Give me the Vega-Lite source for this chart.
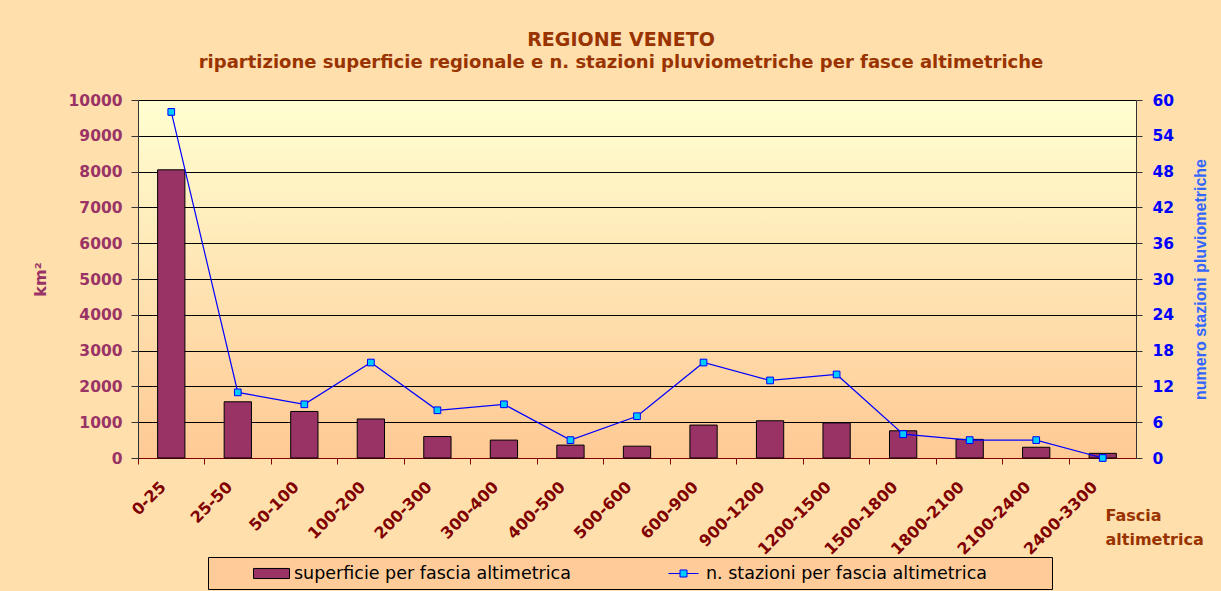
{
  "$schema": "https://vega.github.io/schema/vega-lite/v6.json",
  "width": 998,
  "height": 358,
  "autosize": {"type": "none"},
  "padding": {"left": 138, "top": 100, "right": 85, "bottom": 133},
  "background": "#FFDFAC",
  "title": {
    "text": "REGIONE VENETO",
    "subtitle": "ripartizione superficie regionale  e n. stazioni pluviometriche per fasce altimetriche",
    "color": "#993300",
    "subtitleColor": "#993300",
    "font": "DejaVu Sans",
    "fontSize": 19,
    "fontWeight": "bold",
    "subtitleFont": "DejaVu Sans",
    "subtitleFontSize": 18,
    "subtitleFontWeight": "bold",
    "anchor": "middle",
    "frame": "group",
    "dx": -16,
    "offset": 21,
    "subtitlePadding": 4
  },
  "data": {
    "values": [
      {"fascia": "0-25", "superficie": 8050, "stazioni": 58},
      {"fascia": "25-50", "superficie": 1570, "stazioni": 11},
      {"fascia": "50-100", "superficie": 1300, "stazioni": 9},
      {"fascia": "100-200", "superficie": 1090, "stazioni": 16},
      {"fascia": "200-300", "superficie": 600, "stazioni": 8},
      {"fascia": "300-400", "superficie": 500, "stazioni": 9},
      {"fascia": "400-500", "superficie": 360, "stazioni": 3},
      {"fascia": "500-600", "superficie": 330, "stazioni": 7},
      {"fascia": "600-900", "superficie": 920, "stazioni": 16},
      {"fascia": "900-1200", "superficie": 1040, "stazioni": 13},
      {"fascia": "1200-1500", "superficie": 980, "stazioni": 14},
      {"fascia": "1500-1800", "superficie": 760, "stazioni": 4},
      {"fascia": "1800-2100", "superficie": 520, "stazioni": 3},
      {"fascia": "2100-2400", "superficie": 300, "stazioni": 3},
      {"fascia": "2400-3300", "superficie": 130, "stazioni": 0}
    ]
  },
  "layer": [
    {
      "mark": {"type": "bar", "strokeWidth": 1, "width": {"band": 0.41}},
      "encoding": {
        "x": {
          "field": "fascia", "type": "nominal", "sort": null,
          "scale": {"paddingInner": 0, "paddingOuter": 0},
          "axis": {
            "title": ["Fascia", "altimetrica"],
            "titleX": 967, "titleY": 62, "titleAlign": "left", "titleBaseline": "alphabetic",
            "titleColor": "#993300", "titleFont": "DejaVu Sans", "titleFontSize": 16, "titleFontWeight": "bold", "titleLineHeight": 24,
            "labelAngle": -45, "labelAlign": "right", "labelBaseline": "middle",
            "labelColor": "#800000", "labelFont": "DejaVu Sans", "labelFontSize": 16, "labelFontWeight": "bold",
            "labelPadding": 20, "labelOffset": -8, "bandPosition": 0,
            "domainColor": "#800000", "tickColor": "#800000", "tickSize": 6, "grid": false
          }
        },
        "y": {
          "field": "superficie", "type": "quantitative",
          "scale": {"domain": [0, 10000]},
          "axis": {
            "values": [0, 1000, 2000, 3000, 4000, 5000, 6000, 7000, 8000, 9000, 10000],
            "format": "d",
            "title": "km²", "titleColor": "#993366", "titleFont": "DejaVu Sans", "titleFontSize": 16, "titleFontWeight": "bold",
            "titleAngle": -90, "titleX": -98, "titleY": 179, "titleAlign": "center", "titleBaseline": "middle",
            "labelColor": "#993366", "labelFont": "DejaVu Sans", "labelFontSize": 15.5, "labelFontWeight": "bold",
            "grid": true, "gridColor": "#000000", "gridWidth": 1, "gridOpacity": 1,
            "tickColor": "#333333", "tickSize": 7, "labelPadding": 9, "domainColor": "#333333"
          }
        },
        "fill": {
          "datum": "superficie per fascia altimetrica", "type": "nominal",
          "scale": {"domain": ["superficie per fascia altimetrica", "n. stazioni per fascia altimetrica"], "range": ["#993366", "#00CCFF"]},
          "legend": {"title": " ", "titleOrient": "right", "titlePadding": 58, "titleFontSize": 10, "orient": "none", "legendX": 70, "legendY": 457, "direction": "horizontal"}
        },
        "stroke": {
          "datum": "superficie per fascia altimetrica", "type": "nominal",
          "scale": {"domain": ["superficie per fascia altimetrica", "n. stazioni per fascia altimetrica"], "range": ["#000000", "#0000FF"]},
          "legend": {"title": " ", "titleOrient": "right", "titlePadding": 58, "titleFontSize": 10, "orient": "none", "legendX": 70, "legendY": 457, "direction": "horizontal"}
        }
      }
    },
    {
      "mark": {"type": "line", "color": "#0000FF", "strokeWidth": 1.2},
      "encoding": {
        "x": {"field": "fascia", "type": "nominal", "sort": null},
        "y": {
          "field": "stazioni", "type": "quantitative",
          "scale": {"domain": [0, 60]},
          "axis": {
            "orient": "right",
            "values": [0, 6, 12, 18, 24, 30, 36, 42, 48, 54, 60],
            "title": "numero  stazioni pluviometriche", "titleColor": "#3366FF", "titleFont": "Liberation Sans", "titleFontSize": 16, "titleFontWeight": "bold",
            "titleAngle": -90, "titleX": 64, "titleY": 179, "titleAlign": "center", "titleBaseline": "middle",
            "labelColor": "#0000FF", "labelFont": "DejaVu Sans", "labelFontSize": 15.5, "labelFontWeight": "bold",
            "grid": false, "tickColor": "#333333", "tickSize": 6, "labelPadding": 10, "domainColor": "#333333"
          }
        }
      }
    },
    {
      "mark": {"type": "point", "filled": true, "size": 1, "strokeWidth": 0.1, "opacity": 1},
      "encoding": {
        "x": {"field": "fascia", "type": "nominal", "sort": null},
        "y": {"field": "stazioni", "type": "quantitative", "scale": {"domain": [0, 60]}, "axis": null},
        "shape": {
          "datum": "n. stazioni per fascia altimetrica", "type": "nominal",
          "scale": {"domain": ["superficie per fascia altimetrica", "n. stazioni per fascia altimetrica"], "range": ["M-2,-0.56H2V0.56H-2Z", "M-1.67,0H-0.39M0.39,0H1.67M-0.39,-0.39H0.39V0.39H-0.39Z"]},
          "legend": {"title": " ", "titleOrient": "right", "titlePadding": 58, "titleFontSize": 10, "orient": "none", "legendX": 70, "legendY": 457, "direction": "horizontal"}
        },
        "fill": {"datum": "n. stazioni per fascia altimetrica", "type": "nominal"},
        "stroke": {"datum": "n. stazioni per fascia altimetrica", "type": "nominal"}
      }
    },
    {
      "mark": {"type": "point", "shape": "square", "filled": true, "size": 45, "fill": "#00CCFF", "stroke": "#0000FF", "strokeWidth": 1, "opacity": 1},
      "encoding": {
        "x": {"field": "fascia", "type": "nominal", "sort": null},
        "y": {"field": "stazioni", "type": "quantitative", "scale": {"domain": [0, 60]}, "axis": null}
      }
    }
  ],
  "resolve": {"scale": {"y": "independent"}},
  "config": {
    "view": {
      "fill": {"gradient": "linear", "x1": 0, "y1": 0, "x2": 0, "y2": 1, "stops": [{"offset": 0, "color": "#FFFFD2"}, {"offset": 1, "color": "#FFC994"}]},
      "stroke": null
    },
    "legend": {
      "fillColor": "#FFCC99", "strokeColor": "#000000", "padding": 7,
      "labelFont": "DejaVu Sans", "labelFontSize": 17.5, "labelColor": "#000000",
      "symbolSize": 324, "symbolStrokeWidth": 1, "symbolOffset": 47, "columnPadding": 56, "labelOffset": 13, "labelLimit": 500
    }
  }
}
